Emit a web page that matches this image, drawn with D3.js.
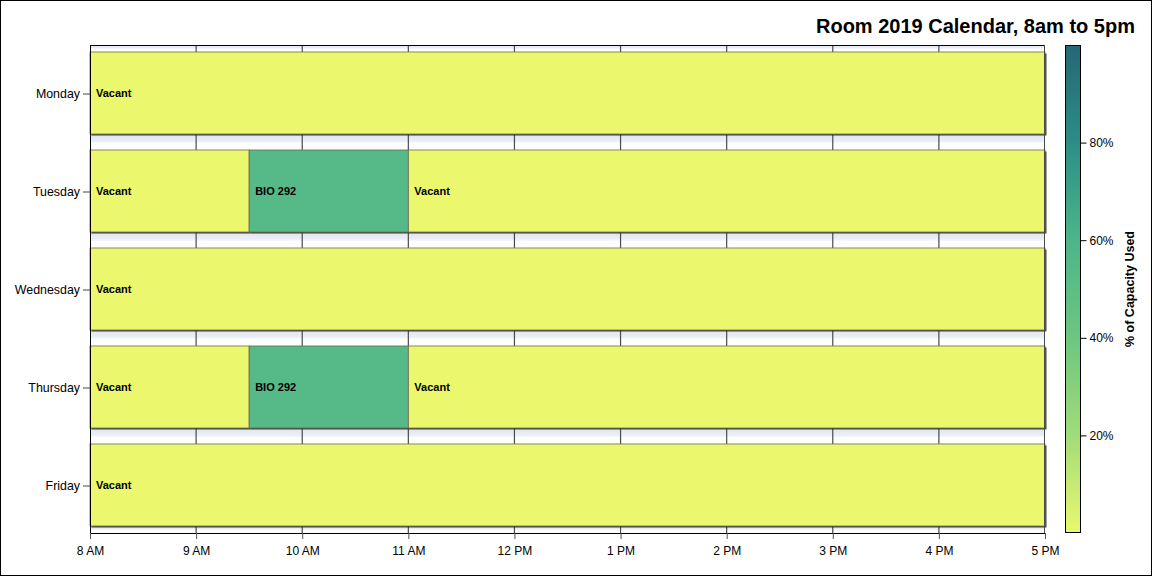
<!DOCTYPE html>
<html>
<head>
<meta charset="utf-8">
<script src="https://cdn.jsdelivr.net/npm/d3@7"></script>
<style>
  html, body { margin: 0; padding: 0; background: #fff; }
  svg { display: block; font-family: "Liberation Sans", Arial, sans-serif; }
</style>
</head>
<body>
<svg id="chart" width="1152" height="576"></svg>
<script>
// ---- data ----
const days = ["Monday", "Tuesday", "Wednesday", "Thursday", "Friday"];
const hourTicks = [8, 9, 10, 11, 12, 13, 14, 15, 16, 17];
const segDay   = ["Monday", "Tuesday", "Tuesday", "Tuesday", "Wednesday", "Thursday", "Thursday", "Thursday", "Friday"];
const segStart = [8, 8, 9.5, 11, 8, 8, 9.5, 11, 8];
const segEnd   = [17, 9.5, 11, 17, 17, 9.5, 11, 17, 17];
const segLabel = ["Vacant", "Vacant", "BIO 292", "Vacant", "Vacant", "Vacant", "BIO 292", "Vacant", "Vacant"];
const segPct   = [0, 0, 55, 0, 0, 0, 55, 0, 0];
const legendTicks = [20, 40, 60, 80];
const colorStops = [0, 20, 40, 60, 80, 100];
const colorVals = ["#ebf86e", "#a0dc7a", "#6dc680", "#4db58a", "#2c8e86", "#266774"];

const segments = segDay.map((d, i) => ({day: d, start: segStart[i], end: segEnd[i], label: segLabel[i], pct: segPct[i]}));

// ---- layout ----
const svg = d3.select("#chart");
const W = 1152, H = 576;
const L = 90, R = 1045, T = 45, B = 533;

svg.append("rect").attr("x", 0.5).attr("y", 0.5).attr("width", W - 1).attr("height", H - 1)
  .attr("fill", "#fff").attr("stroke", "#000");

const x = d3.scaleLinear().domain([8, 17]).range([L, R]);
const y = d3.scaleBand().domain(days).range([T, B]).paddingInner(0.163).paddingOuter(0.0714);
const color = d3.scaleLinear().domain(colorStops).range(colorVals);
const bw = y.bandwidth();

const defs = svg.append("defs");
const sg = defs.append("linearGradient").attr("id", "strip").attr("x1", 0).attr("y1", 0).attr("x2", 0).attr("y2", 1);
sg.append("stop").attr("offset", "0%").attr("stop-color", "#dfe3f0");
sg.append("stop").attr("offset", "45%").attr("stop-color", "#eceff7");
sg.append("stop").attr("offset", "60%").attr("stop-color", "#ffffff");
sg.append("stop").attr("offset", "100%").attr("stop-color", "#ffffff");

// strips between bars
const strips = [];
for (let i = 0; i <= days.length; i++) {
  const top = i === 0 ? T : y(days[i - 1]) + bw;
  const bot = i === days.length ? B : y(days[i]);
  strips.push({top, bot});
}
svg.append("g").selectAll("rect").data(strips).join("rect")
  .attr("x", L).attr("width", R - L)
  .attr("y", d => d.top).attr("height", d => d.bot - d.top)
  .attr("fill", "url(#strip)");

// vertical grid lines
svg.append("g").selectAll("line").data(hourTicks.slice(1, -1)).join("line")
  .attr("x1", d => x(d)).attr("x2", d => x(d))
  .attr("y1", T).attr("y2", B)
  .attr("stroke", "#4a4a4a").attr("stroke-width", 1.2);

// bars
const bars = svg.append("g");
bars.selectAll("rect.shadow").data(segments).join("rect").attr("class", "shadow")
  .attr("x", d => x(d.start) + 1.5).attr("y", d => y(d.day) + 1.5)
  .attr("width", d => x(d.end) - x(d.start)).attr("height", bw)
  .attr("fill", "#2a2a1e").attr("opacity", 0.85);
bars.selectAll("rect.bar").data(segments).join("rect").attr("class", "bar")
  .attr("x", d => x(d.start)).attr("y", d => y(d.day))
  .attr("width", d => x(d.end) - x(d.start)).attr("height", bw)
  .attr("fill", d => color(d.pct)).attr("stroke", "#6a6a50").attr("stroke-width", 0.8);
bars.selectAll("text").data(segments).join("text")
  .attr("x", d => x(d.start) + 6).attr("y", d => y(d.day) + bw / 2 + 4)
  .attr("font-size", 11).attr("font-weight", "bold").attr("fill", "#000")
  .text(d => d.label);

// frame
svg.append("line").attr("x1", L).attr("x2", R).attr("y1", T + 0.5).attr("y2", T + 0.5).attr("stroke", "#000");
svg.append("line").attr("x1", L + 0.5).attr("x2", L + 0.5).attr("y1", T).attr("y2", B).attr("stroke", "#000");
svg.append("line").attr("x1", R - 0.5).attr("x2", R - 0.5).attr("y1", T).attr("y2", B).attr("stroke", "#4a4a4a");

// x axis
const fmt = h => h < 12 ? h + " AM" : (h === 12 ? "12 PM" : (h - 12) + " PM");
const xAxis = svg.append("g").attr("transform", `translate(0,${B})`)
  .call(d3.axisBottom(x).tickValues(hourTicks).tickFormat(fmt).tickSize(6).tickSizeOuter(0).tickPadding(7));
xAxis.select(".domain").attr("stroke", "#000");
xAxis.selectAll(".tick line").attr("stroke", "#555");
xAxis.selectAll("text").attr("font-size", 12).attr("font-family", "Liberation Sans, Arial, sans-serif").attr("fill", "#000");

// y axis
const yAxis = svg.append("g").attr("transform", `translate(${L},1)`)
  .call(d3.axisLeft(y).tickSize(7).tickSizeOuter(0).tickPadding(3));
yAxis.select(".domain").remove();
yAxis.selectAll(".tick line").attr("stroke", "#444");
yAxis.selectAll("text").attr("font-size", 12.4).attr("font-family", "Liberation Sans, Arial, sans-serif").attr("fill", "#000");

// title
svg.append("text").attr("x", 1135).attr("y", 33).attr("text-anchor", "end")
  .attr("font-size", 20).attr("font-weight", "bold").text("Room 2019 Calendar, 8am to 5pm");

// legend
const lx = 1065, lw = 15;
const ly = d3.scaleLinear().domain([0, 100]).range([B, T]);
const lg = defs.append("linearGradient").attr("id", "legend").attr("x1", 0).attr("y1", 1).attr("x2", 0).attr("y2", 0);
colorStops.forEach((s, i) => lg.append("stop").attr("offset", s + "%").attr("stop-color", colorVals[i]));
svg.append("rect").attr("x", lx + 0.5).attr("y", T + 0.5).attr("width", lw).attr("height", B - T - 1)
  .attr("fill", "url(#legend)").attr("stroke", "#000");
const lAxis = svg.append("g").attr("transform", `translate(${lx + lw + 0.5},0)`)
  .call(d3.axisRight(ly).tickValues(legendTicks).tickFormat(d => d + "%").tickSize(6).tickSizeOuter(0).tickPadding(3));
lAxis.select(".domain").remove();
lAxis.selectAll(".tick line").attr("stroke", "#000");
lAxis.selectAll("text").attr("font-size", 12).attr("font-family", "Liberation Sans, Arial, sans-serif").attr("fill", "#000");

svg.append("text").attr("transform", `translate(1134,${(T + B) / 2}) rotate(-90)`)
  .attr("text-anchor", "middle").attr("font-size", 12.5).attr("font-weight", "bold")
  .text("% of Capacity Used");
</script>
</body>
</html>
